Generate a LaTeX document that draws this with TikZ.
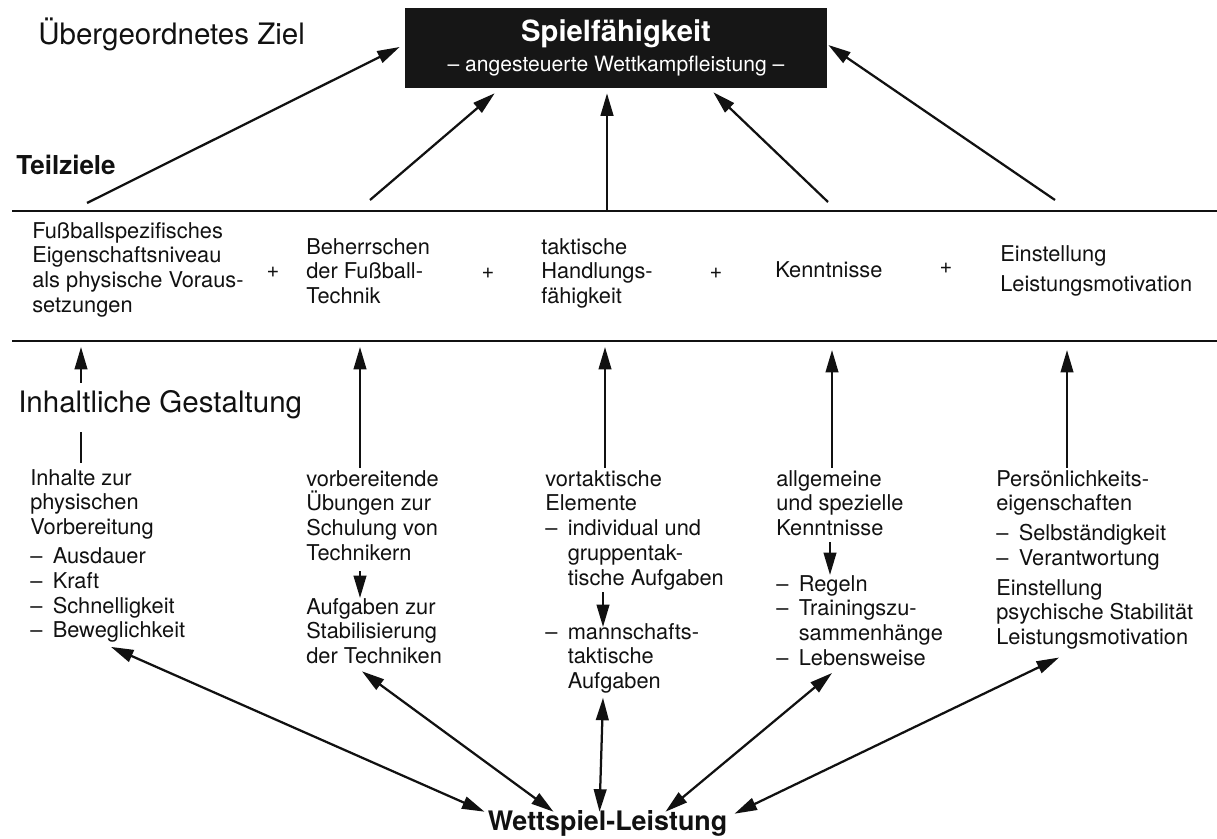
\documentclass[tikz,border=0pt]{standalone}
\usepackage{fontspec}
\setmainfont{TeX Gyre Heros}
\usetikzlibrary{positioning,arrows.meta,calc}
\definecolor{cInk}{HTML}{111111}
\definecolor{cBox}{HTML}{161616}
\newcommand{\dl}{\makebox[16pt][l]{--}}
\newcommand{\il}{\hspace*{16pt}}
\tikzset{
  lvl/.style={anchor=base west,inner sep=0pt,font=\fontsize{21}{24}\selectfont,text=cInk},
  lvlb/.style={anchor=base west,inner sep=0pt,font=\bfseries\fontsize{18.5}{22}\selectfont,text=cInk},
  goal/.style={fill=cBox,text=white,minimum width=10.55cm,minimum height=2cm,inner sep=0pt,align=center,font=\fontsize{15}{20.6}\selectfont},
  item/.style={anchor=north west,inner sep=0pt,align=left,font=\fontsize{15.5}{17.6}\selectfont,text=cInk,execute at begin node={\rule{0pt}{12pt}}},
  plus/.style={inner sep=0pt,font=\fontsize{15.5}{17.6}\selectfont,text=cInk},
  res/.style={anchor=base,inner sep=0pt,font=\bfseries\fontsize{19.1}{22}\selectfont,text=cInk},
  rule/.style={line width=1.3pt,draw=cInk},
  edge/.style={-{Triangle[length=16pt,width=9pt]},line width=1.6pt,draw=cInk},
  dedge/.style={{Triangle[length=16pt,width=9pt]}-{Triangle[length=16pt,width=9pt]},line width=1.6pt,draw=cInk},
}
\begin{document}
\begin{tikzpicture}[x=0.025cm,y=-0.025cm]
  \useasboundingbox (0,0) rectangle (1217,839);

  % level labels and goal
  \node[lvl] (lvTop) at (38,45) {Übergeordnetes Ziel};
  \node[lvlb] (lvMid) at (16,175) {Teilziele};
  \node[lvl] (lvLow) at (18,413) {Inhaltliche Gestaltung};
  \node[goal] (ziel) at (616,48) {{\bfseries\fontsize{20.8}{20.6}\selectfont Spielfähigkeit}\\[1pt]-- angesteuerte Wettkampfleistung --};

  % band of sub-goals
  \draw[rule] (12,211) -- (1217,211);
  \draw[rule] (12,341) -- (1217,341);
  \node[item] (tz1) at (32,222) {Fußballspezifisches\\Eigenschaftsniveau\\als physische Voraus-\\setzungen};
  \node[item] (tz2) at (306,238) {Beherrschen\\der Fußball-\\Technik};
  \node[item] (tz3) at (541,238) {taktische\\Handlungs-\\fähigkeit};
  \node[item] (tz4) at (775,260) {Kenntnisse};
  \node[item] (tz5) at (1000,245) {Einstellung\\[3.7pt]Leistungsmotivation};
  \node[plus] (p1) at (273,272) {+};
  \node[plus] (p2) at (488,273) {+};
  \node[plus] (p3) at (716,273) {+};
  \node[plus] (p4) at (946,268) {+};

  % contents
  \node[item] (ig1) at (30,469) {Inhalte zur\\physischen\\Vorbereitung\\[3pt]\dl Ausdauer\\\dl Kraft\\\dl Schnelligkeit\\\dl Beweglichkeit};
  \node[item] (ig2a) at (306,470) {vorbereitende\\Übungen zur\\Schulung von\\Technikern};
  \node[item] (ig2b) at (306,598) {Aufgaben zur\\Stabilisierung\\der Techniken};
  \node[item] (ig3a) at (545,470) {vortaktische\\Elemente\\\dl individual und\\\il gruppentak-\\\il tische Aufgaben};
  \node[item] (ig3b) at (545,623) {\dl mannschafts-\\\il taktische\\\il Aufgaben};
  \node[item] (ig4a) at (776,470) {allgemeine\\und spezielle\\Kenntnisse};
  \node[item] (ig4b) at (776,575) {\dl Regeln\\\dl Trainingszu-\\\il sammenhänge\\\dl Lebensweise};
  \node[item] (ig5) at (996,470) {Persönlichkeits-\\eigenschaften\\[3.5pt]\dl Selbständigkeit\\\dl Verantwortung\\[3.5pt]Einstellung\\psychische Stabilität\\Leistungsmotivation};
  \node[res] (wl) at (607.5,830) {Wettspiel-Leistung};

  % arrows to the goal
  \coordinate (s1) at (87,203);
  \coordinate (s2) at (370,200);
  \coordinate (s3) at (607,211);
  \coordinate (s4) at (828,202);
  \coordinate (s5) at (1055,200);
  \draw[edge] (s1) -- ($(ziel.west)+(-5,-1)$);
  \draw[edge] (s2) -- ($(ziel.south west)+(90,5)$);
  \draw[edge] (s3) -- ($(ziel.south)+(-9,5)$);
  \draw[edge] (s4) -- ($(ziel.south east)+(-114,4)$);
  \draw[edge] (s5) -- ($(ziel.east)+(1,-3)$);

  % arrows up to the sub-goals
  \coordinate (u1) at (81,347);
  \coordinate (u2) at (360,347);
  \coordinate (u3) at (605,347);
  \coordinate (u4) at (832,350);
  \coordinate (u5) at (1067,350);
  \draw[rule,line width=1.6pt] ($(ig1.north -| u1)+(0,-6)$) -- ($(lvLow.south -| u1)+(0,12)$);
  \draw[edge] ($(lvLow.north -| u1)+(0,-8)$) -- (u1);
  \draw[edge] ($(ig2a.north -| u2)+(0,-2)$) -- (u2);
  \draw[edge] ($(ig3a.north -| u3)+(0,-2)$) -- (u3);
  \draw[edge] ($(ig4a.north -| u4)+(0,-2)$) -- (u4);
  \draw[edge] ($(ig5.north -| u5)+(0,-2)$) -- (u5);

  % steps inside a column
  \draw[edge] ($(ig2a.south west)+(54,10)$) -- ($(ig2b.north west)+(54,0)$);
  \draw[edge] ($(ig3a.south west)+(58,2)$) -- ($(ig3b.north west)+(58,4)$);
  \draw[edge] ($(ig4a.south west)+(54,6)$) -- ($(ig4b.north west)+(54,0)$);

  % links with the match performance
  \draw[dedge] ($(ig1.south west)+(81,4)$) -- ($(wl.north west)+(-3,2)$);
  \draw[dedge] ($(ig2b.south west)+(56,7)$) -- ($(wl.north west)+(66,2)$);
  \draw[dedge] ($(ig3b.south west)+(58,4)$) -- ($(wl.north)+(-8,2)$);
  \draw[dedge] ($(ig4b.south west)+(56,7)$) -- ($(wl.north)+(58,2)$);
  \draw[dedge] ($(ig5.south west)+(63,8)$) -- ($(wl.north east)+(7,4)$);
\end{tikzpicture}
\end{document}
